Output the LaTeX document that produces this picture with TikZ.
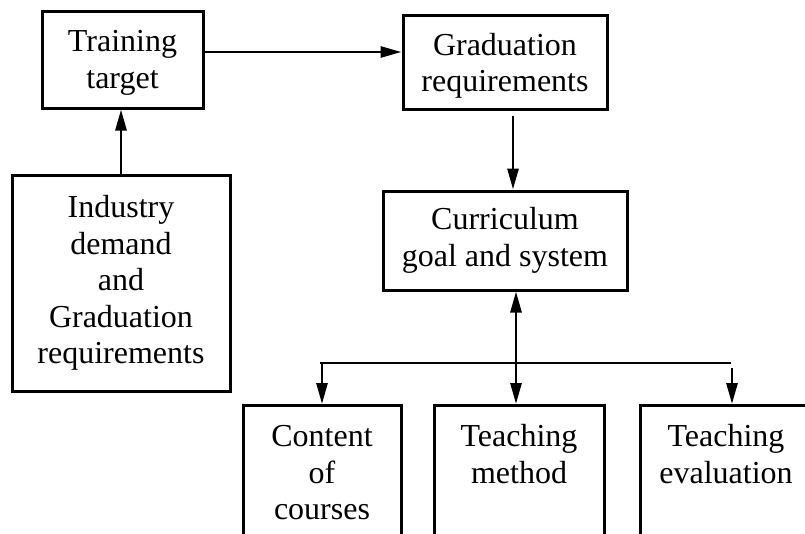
\documentclass[tikz,border=0pt]{standalone}
\usepackage{fontspec}
\setmainfont{Liberation Serif}
\usetikzlibrary{arrows.meta}
\begin{document}
\begin{tikzpicture}[x=1pt,y=-1pt,
  box/.style={draw, line width=3pt, rectangle, inner sep=0pt, align=center,
    font=\fontsize{32}{36.5}\selectfont},
  conn/.style={line width=2.8pt, -{Triangle[length=21pt,width=11pt]}},
  dbl/.style={line width=2.8pt, {Triangle[length=21pt,width=11pt]}-{Triangle[length=21pt,width=11pt]}},
  bar/.style={line width=2.2pt}]
\useasboundingbox (0,0) rectangle (805,533);
\clip (0,0) rectangle (805,533);

% upper boxes
\node[box, minimum width=161pt, minimum height=97pt] (tt) at (122.5,59.5)
  {\rule{0pt}{28pt}Training\\target};
\node[box, minimum width=204pt, minimum height=94pt] (grad) at (505,62)
  {\rule{0pt}{29.5pt}Graduation\\requirements};
\node[box, minimum width=218pt, minimum height=216pt] (ind) at (121,283)
  {Industry\\demand\\and\\Graduation\\requirements};
\node[box, minimum width=244pt, minimum height=99pt] (cur) at (505,240.5)
  {Curriculum\\goal and system};

% lower boxes, open towards the bottom edge
\node[box, anchor=north] (cont) at (322,404)
  {\parbox[c][170pt][t]{158pt}{\centering\rule{0pt}{41pt}Content\\of\\courses}};
\node[box, anchor=north] (meth) at (519,404)
  {\parbox[c][170pt][t]{170pt}{\centering\rule{0pt}{41pt}Teaching\\method}};
\node[box, anchor=north] (eval) at (726,404)
  {\parbox[c][170pt][t]{172pt}{\centering\rule{0pt}{41pt}Teaching\\evaluation}};

% distribution bar
\coordinate (bl) at (320,363);
\coordinate (br) at (731,363);
\coordinate (mid) at (516,363);
\coordinate (rs) at (732,368);

% connectors
\draw[conn] ([yshift=7.5pt]tt.east) -- ([yshift=7.5pt]tt.east -| grad.west);
\draw[conn] (ind.north) -- (ind.north |- tt.south);
\draw[conn, shorten <=5pt] ([xshift=8pt]grad.south) -- ([xshift=8pt]grad.south |- cur.north);
\draw[bar] (bl) -- (br);
\draw[dbl] (mid |- cur.south) -- (mid |- meth.north);
\draw[conn] (cont.north |- bl) -- (cont.north);
\draw[conn] (rs) -- (rs |- eval.north);
\end{tikzpicture}
\end{document}
